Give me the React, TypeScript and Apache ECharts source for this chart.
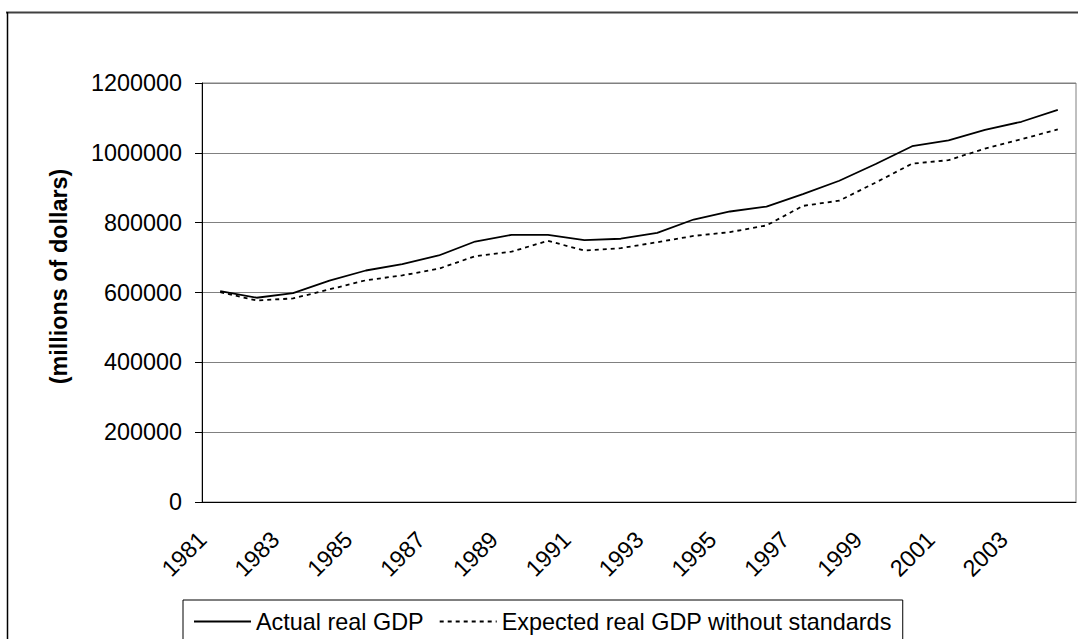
import { useEffect, useRef } from "react";
import * as echarts from "echarts";

// Years on the category axis
const years = [
  "1981", "1982", "1983", "1984", "1985", "1986", "1987", "1988",
  "1989", "1990", "1991", "1992", "1993", "1994", "1995", "1996",
  "1997", "1998", "1999", "2000", "2001", "2002", "2003", "2004",
];

// Real GDP, millions of dollars
const actualGdp = [
  604000, 585000, 598000, 634000, 663000, 681000, 706000, 746000,
  765000, 765000, 750000, 754000, 771000, 809000, 832000, 846000,
  882000, 920000, 968000, 1019000, 1036000, 1066000, 1089000, 1123000,
];

const expectedGdp = [
  601000, 577000, 583000, 609000, 635000, 649000, 668000, 704000,
  717000, 748000, 720000, 727000, 744000, 762000, 773000, 792000,
  848000, 863000, 915000, 969000, 979000, 1012000, 1039000, 1067000,
];

const seriesNames = ["Actual real GDP", "Expected real GDP without standards"];
const yAxisTitle = "(millions of dollars)";
const yMin = 0;
const yMax = 1200000;
const yStep = 200000;

const FONT = "'Liberation Sans', Arial, sans-serif";
const FS = 23.4;

export default function App() {
  const ref = useRef<HTMLDivElement>(null);

  useEffect(() => {
    if (!ref.current) return;
    const chart = echarts.init(ref.current, null, { renderer: "svg" });
    chart.setOption({
      animation: false,
      backgroundColor: "#ffffff",
      textStyle: { fontFamily: FONT },
      grid: {
        left: 202,
        top: 83,
        right: 2,
        bottom: 137,
        show: true,
        borderColor: "#808080",
        borderWidth: 1,
      },
      legend: {
        left: 183,
        top: 600,
        padding: [10, 11, 10, 10],
        borderColor: "#000",
        borderWidth: 1,
        itemWidth: 57,
        itemHeight: 14,
        itemGap: 15,
        itemStyle: { opacity: 0 },
        textStyle: { fontSize: FS, color: "#000", fontFamily: FONT },
        data: seriesNames,
      },
      xAxis: {
        type: "category",
        data: years,
        boundaryGap: true,
        axisLine: { lineStyle: { color: "#000", width: 1 } },
        axisTick: {
          interval: 0,
          length: 6,
          lineStyle: { color: "#000" },
        },
        axisLabel: {
          interval: 1,
          rotate: 45,
          margin: 16,
          padding: [0, 25, 0, 0],
          fontSize: FS,
          color: "#000",
          fontFamily: FONT,
        },
        splitLine: { show: false },
      },
      yAxis: {
        type: "value",
        min: yMin,
        max: yMax,
        interval: yStep,
        axisLine: { show: true, lineStyle: { color: "#000", width: 1 } },
        axisTick: { show: true, length: 7, lineStyle: { color: "#000" } },
        axisLabel: {
          margin: 20,
          fontSize: FS,
          color: "#000",
          fontFamily: FONT,
          formatter: (v: number) => String(v),
        },
        splitLine: { show: true, lineStyle: { color: "#808080", width: 1 } },
      },
      graphic: [
        {
          type: "line",
          shape: { x1: 6, y1: 12.5, x2: 1078, y2: 12.5 },
          style: { stroke: "#404040", lineWidth: 2 },
        },
        {
          type: "line",
          shape: { x1: 7.5, y1: 12, x2: 7.5, y2: 639 },
          style: { stroke: "#000", lineWidth: 1.5 },
        },
        {
          type: "text",
          x: 59,
          y: 276.5,
          rotation: Math.PI / 2,
          style: {
            text: yAxisTitle,
            font: `bold ${FS}px ${FONT}`,
            fill: "#000",
            align: "center",
            verticalAlign: "middle",
          },
        },
      ],
      series: [
        {
          name: seriesNames[0],
          type: "line",
          data: actualGdp,
          symbol: "none",
          lineStyle: { color: "#000", width: 1.8, type: "solid" },
          itemStyle: { color: "#000" },
        },
        {
          name: seriesNames[1],
          type: "line",
          data: expectedGdp,
          symbol: "none",
          lineStyle: { color: "#000", width: 1.8, type: [4, 4] },
          itemStyle: { color: "#000" },
        },
      ],
    });
    return () => chart.dispose();
  }, []);

  return (
    <div
      ref={ref}
      style={{
        position: "absolute",
        left: 0,
        top: 0,
        width: 1078,
        height: 639,
        background: "#fff",
      }}
    />
  );
}
